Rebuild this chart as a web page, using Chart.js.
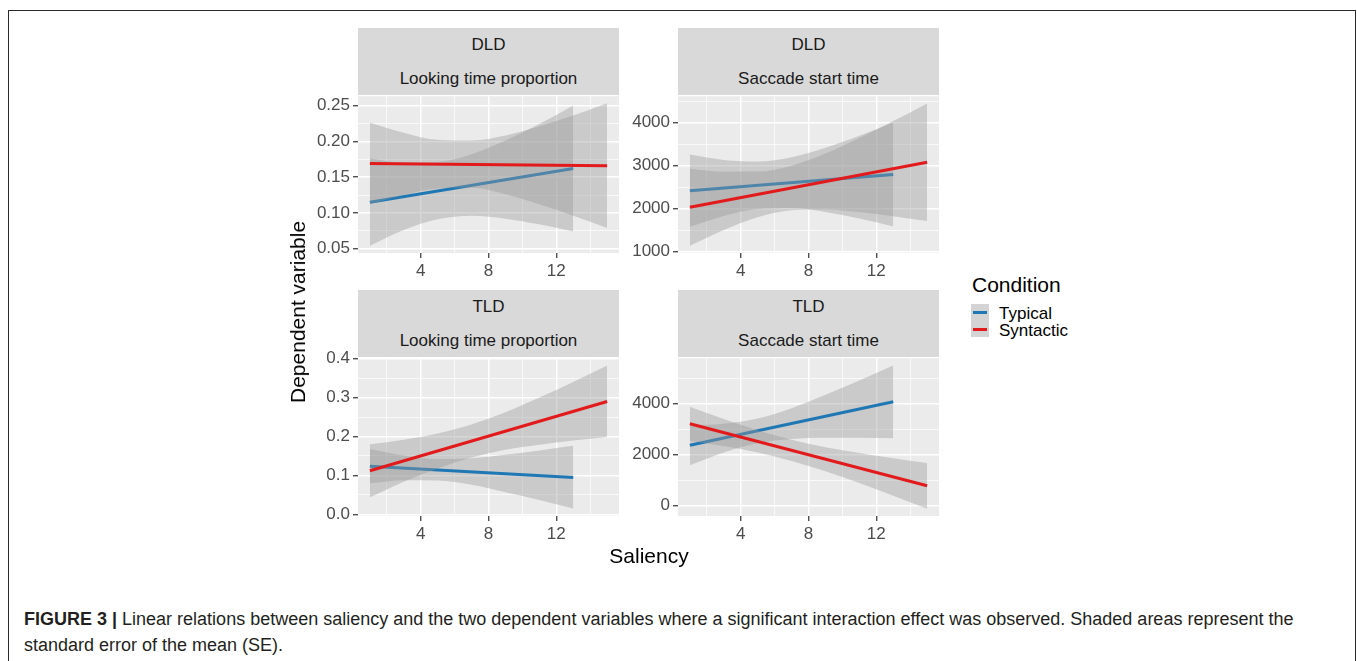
<!DOCTYPE html>
<html>
<head>
<meta charset="utf-8">
<script src="https://cdn.jsdelivr.net/npm/chart.js@4.4.1/dist/chart.umd.min.js"></script>
<style>
body { margin: 0; background: #fff; font-family: "Liberation Sans", Arial, Helvetica, sans-serif; }
#frame { position: absolute; left: 8px; top: 10px; width: 1346px; height: 720px; border: 1px solid #2b2b2b; }
.strip { position: absolute; background: #D9D9D9; color: #1A1A1A; font-size: 17px; text-align: center; }
.strip div { height: 33.5px; line-height: 33.5px; }
canvas { position: absolute; }
.label { position: absolute; color: #000; font-size: 21px; white-space: nowrap; }
#ytitle { left: 298px; top: 312px; transform: translate(-50%, -50%) rotate(-90deg); }
#xtitle { left: 649px; top: 556px; transform: translate(-50%, -50%); }
#legTitle { left: 972px; top: 285px; transform: translateY(-50%); }
.key { position: absolute; left: 971px; width: 18px; height: 16.5px; background: #D4D4D4; }
.key span { position: absolute; left: 2px; right: 2px; top: 7px; height: 3px; }
.legText { position: absolute; left: 999px; font-size: 17px; color: #000; transform: translateY(-50%); white-space: nowrap; }
#caption { position: absolute; left: 24px; top: 606px; font-size: 18px; line-height: 26px; color: #231F20; white-space: nowrap; }
</style>
</head>
<body>
<div id="frame"></div>

<div class="strip" style="left:358px;top:28px;width:261px;height:67px"><div>DLD</div><div>Looking time proportion</div></div>
<div class="strip" style="left:678px;top:28px;width:261px;height:67px"><div>DLD</div><div>Saccade start time</div></div>
<div class="strip" style="left:358px;top:290px;width:261px;height:67px"><div>TLD</div><div>Looking time proportion</div></div>
<div class="strip" style="left:678px;top:290px;width:261px;height:67px"><div>TLD</div><div>Saccade start time</div></div>

<canvas id="p1" width="343" height="202" style="left:288px;top:83px"></canvas>
<canvas id="p2" width="343" height="202" style="left:608px;top:83px"></canvas>
<canvas id="p3" width="343" height="203" style="left:288px;top:345px"></canvas>
<canvas id="p4" width="343" height="203" style="left:608px;top:345px"></canvas>

<div class="label" id="ytitle">Dependent variable</div>
<div class="label" id="xtitle">Saliency</div>

<div class="label" id="legTitle">Condition</div>
<div class="key" style="top:304px"><span style="background:#1F78B4"></span></div>
<div class="key" style="top:320.5px"><span style="background:#E31A1C"></span></div>
<div class="legText" style="top:314px">Typical</div>
<div class="legText" style="top:331px">Syntactic</div>

<div id="caption"><b>FIGURE 3 |</b> Linear relations between saliency and the two dependent variables where a significant interaction effect was observed. Shaded areas represent the<br>standard error of the mean (SE).</div>

<script>
// Saliency values where the fitted lines start / end
const lineXTypical = [1, 13];
const lineXSyntactic = [1, 15];
// Saliency values where the shaded SE bands were read
const bandXTypical = [1, 3, 5, 7, 9, 11, 13];
const bandXSyntactic = [1, 3, 5, 7, 9, 11, 13, 15];

const xMajor = [4, 8, 12];
const xMinor = [2, 6, 10, 14];

// DLD - Looking time proportion
const dldLookTypLine = [0.115, 0.162];
const dldLookTypLow = [0.054, 0.076, 0.091, 0.096, 0.092, 0.084, 0.074];
const dldLookTypHigh = [0.176, 0.170, 0.171, 0.182, 0.201, 0.224, 0.250];
const dldLookSynLine = [0.169, 0.166];
const dldLookSynLow = [0.112, 0.125, 0.134, 0.135, 0.126, 0.112, 0.096, 0.079];
const dldLookSynHigh = [0.226, 0.212, 0.202, 0.201, 0.208, 0.221, 0.236, 0.253];
const dldLookTicks = [0.05, 0.10, 0.15, 0.20, 0.25];

// DLD - Saccade start time
const dldSacTypLine = [2417, 2793];
const dldSacTypLow = [1578, 1830, 1990, 2014, 1922, 1767, 1584];
const dldSacTypHigh = [3256, 3130, 3094, 3196, 3414, 3693, 4002];
const dldSacSynLine = [2031, 3077];
const dldSacSynLow = [1136, 1503, 1800, 1960, 1980, 1918, 1823, 1710];
const dldSacSynHigh = [2926, 2857, 2860, 2998, 3278, 3638, 4033, 4444];
const dldSacTicks = [1000, 2000, 3000, 4000];

// TLD - Looking time proportion
const tldLookTypLine = [0.124, 0.095];
const tldLookTypLow = [0.080, 0.088, 0.087, 0.076, 0.057, 0.037, 0.015];
const tldLookTypHigh = [0.168, 0.151, 0.142, 0.144, 0.153, 0.164, 0.176];
const tldLookSynLine = [0.112, 0.290];
const tldLookSynLow = [0.044, 0.084, 0.118, 0.146, 0.166, 0.179, 0.190, 0.199];
const tldLookSynHigh = [0.180, 0.192, 0.208, 0.231, 0.262, 0.300, 0.340, 0.382];
const tldLookTicks = [0.0, 0.1, 0.2, 0.3, 0.4];

// TLD - Saccade start time
const tldSacTypLine = [2366, 4078];
const tldSacTypLow = [1585, 2088, 2450, 2614, 2662, 2665, 2649];
const tldSacTypHigh = [3147, 3214, 3424, 3830, 4352, 4921, 5507];
const tldSacSynLine = [3216, 773];
const tldSacSynLow = [2550, 2336, 2080, 1754, 1346, 882, 386, -125];
const tldSacSynHigh = [3882, 3398, 2956, 2584, 2294, 2060, 1858, 1671];
const tldSacTicks = [0, 2000, 4000];

const BLUE = '#1F78B4';
const RED = '#E31A1C';
const BAND = 'rgba(153,153,153,0.4)';
const NONE = 'rgba(0,0,0,0)';

const panelBg = {
  id: 'panelBg',
  beforeDraw(chart) {
    const { ctx, chartArea: a } = chart;
    ctx.save();
    ctx.fillStyle = '#EBEBEB';
    ctx.fillRect(a.left, a.top, a.right - a.left, a.bottom - a.top);
    ctx.restore();
  }
};

function pts(xs, ys) {
  return xs.map((x, i) => ({ x: x, y: ys[i] }));
}

function midpoints(ticks) {
  const step = ticks[1] - ticks[0];
  const out = [];
  for (let i = 0; i < ticks.length + 1; i++) out.push(ticks[0] + (i - 0.5) * step);
  return out;
}

function axisStyle(major) {
  const isMajor = v => major.some(m => Math.abs(m - v) < 1e-9);
  return {
    isMajor: isMajor,
    grid: {
      color: '#FFFFFF',
      lineWidth: c => (c.tick && isMajor(c.tick.value)) ? 1.5 : 0.7,
      tickColor: c => (c.tick && isMajor(c.tick.value)) ? '#333333' : NONE,
      tickLength: 5,
      tickWidth: 1.2
    },
    border: { display: false }
  };
}

function makePanel(id, yMin, yMax, yMajor, digits, typ, syn) {
  const yMinorAll = midpoints(yMajor).filter(v => v > yMin && v < yMax);
  const yTicks = yMajor.concat(yMinorAll).filter(v => v >= yMin && v <= yMax).sort((a, b) => a - b);
  const xTicks = xMajor.concat(xMinor).sort((a, b) => a - b);
  const xs = axisStyle(xMajor);
  const ys = axisStyle(yMajor);
  const tickFont = { family: '"Liberation Sans", Arial, sans-serif', size: 17 };

  new Chart(document.getElementById(id), {
    type: 'line',
    data: {
      datasets: [
        { data: pts(bandXTypical, typ.high), fill: '+1', backgroundColor: BAND, borderColor: NONE, borderWidth: 0, pointRadius: 0, cubicInterpolationMode: 'monotone', order: 4 },
        { data: pts(bandXTypical, typ.low), fill: false, borderColor: NONE, borderWidth: 0, pointRadius: 0, cubicInterpolationMode: 'monotone', order: 4 },
        { data: pts(lineXTypical, typ.line), fill: false, borderColor: BLUE, borderWidth: 3, pointRadius: 0, order: 3 },
        { data: pts(bandXSyntactic, syn.high), fill: '+1', backgroundColor: BAND, borderColor: NONE, borderWidth: 0, pointRadius: 0, cubicInterpolationMode: 'monotone', order: 2 },
        { data: pts(bandXSyntactic, syn.low), fill: false, borderColor: NONE, borderWidth: 0, pointRadius: 0, cubicInterpolationMode: 'monotone', order: 2 },
        { data: pts(lineXSyntactic, syn.line), fill: false, borderColor: RED, borderWidth: 3, pointRadius: 0, order: 1 }
      ]
    },
    options: {
      responsive: false,
      animation: false,
      events: [],
      layout: { padding: { top: 12, right: 12, left: 0, bottom: 0 } },
      plugins: { legend: { display: false }, tooltip: { enabled: false } },
      scales: {
        x: {
          type: 'linear', min: 0.3, max: 15.7,
          afterBuildTicks: s => { s.ticks = xTicks.map(v => ({ value: v })); },
          afterFit: s => { s.height = 32; },
          ticks: {
            autoSkip: false, maxRotation: 0, padding: 3, color: '#4D4D4D', font: tickFont,
            callback: v => xs.isMajor(v) ? String(v) : ''
          },
          grid: xs.grid, border: xs.border
        },
        y: {
          type: 'linear', min: yMin, max: yMax,
          afterBuildTicks: s => { s.ticks = yTicks.map(v => ({ value: v })); },
          afterFit: s => { s.width = 70; },
          ticks: {
            autoSkip: false, padding: 3, color: '#4D4D4D', font: tickFont,
            callback: v => ys.isMajor(v) ? (digits === null ? String(v) : v.toFixed(digits)) : ''
          },
          grid: ys.grid, border: ys.border
        }
      }
    },
    plugins: [panelBg]
  });
}

makePanel('p1', 0.044, 0.263, dldLookTicks, 2,
  { line: dldLookTypLine, low: dldLookTypLow, high: dldLookTypHigh },
  { line: dldLookSynLine, low: dldLookSynLow, high: dldLookSynHigh });
makePanel('p2', 968, 4612, dldSacTicks, null,
  { line: dldSacTypLine, low: dldSacTypLow, high: dldSacTypHigh },
  { line: dldSacSynLine, low: dldSacSynLow, high: dldSacSynHigh });
makePanel('p3', -0.004, 0.401, tldLookTicks, 1,
  { line: tldLookTypLine, low: tldLookTypLow, high: tldLookTypHigh },
  { line: tldLookSynLine, low: tldLookSynLow, high: tldLookSynHigh });
makePanel('p4', -415, 5795, tldSacTicks, null,
  { line: tldSacTypLine, low: tldSacTypLow, high: tldSacTypHigh },
  { line: tldSacSynLine, low: tldSacSynLow, high: tldSacSynHigh });
</script>
</body>
</html>
